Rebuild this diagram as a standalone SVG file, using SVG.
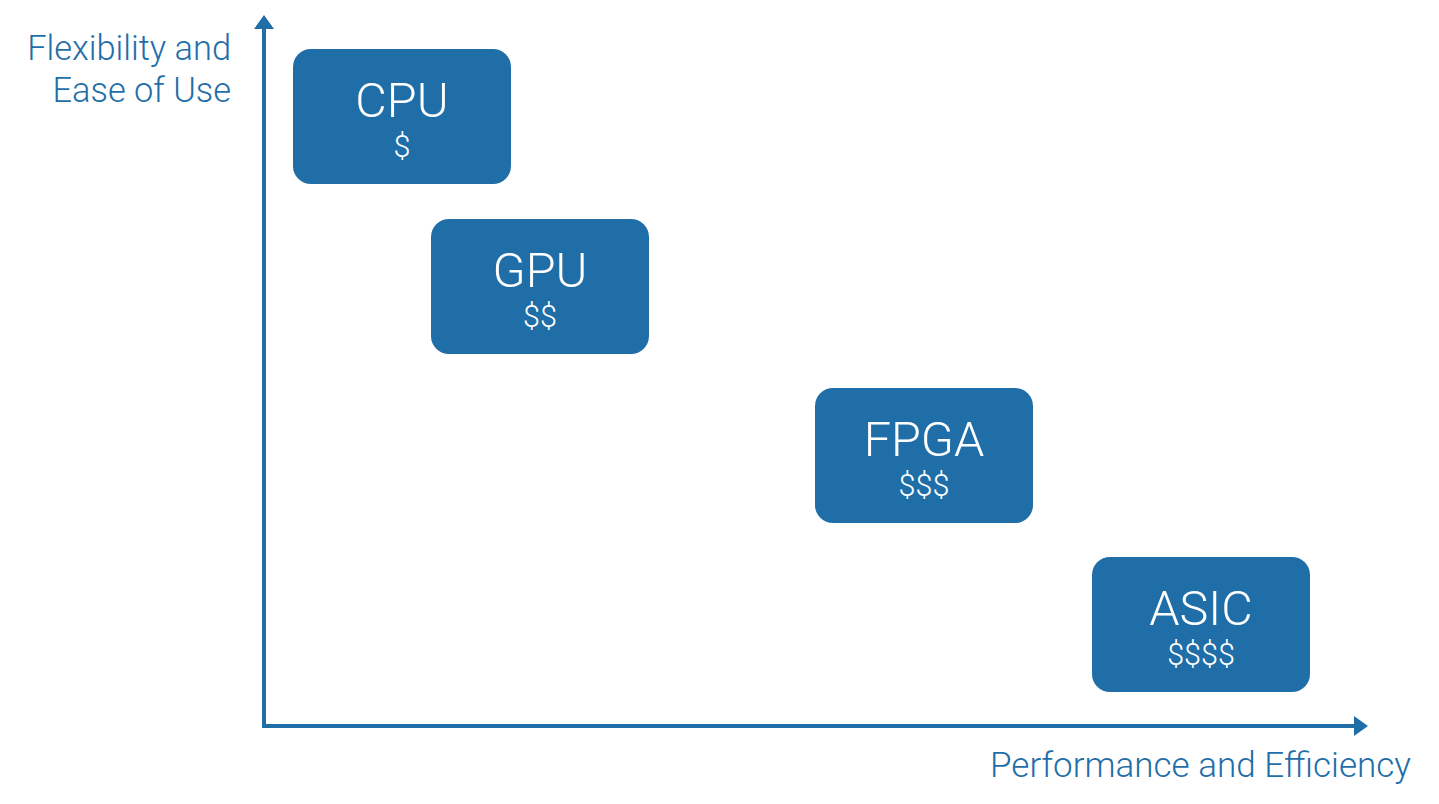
<svg xmlns="http://www.w3.org/2000/svg" width="1439" height="804" viewBox="0 0 1439 804">
<style>
.box{fill:#1f6ea8}
.t{font-family:Roboto,"Liberation Sans",sans-serif;font-weight:300;fill:#ffffff;text-anchor:middle}
.big{font-size:48.5px}
.small{font-size:30.5px}
.lab{font-family:Roboto,"Liberation Sans",sans-serif;font-weight:300;fill:#1f6ea8}
.axis{stroke:#1f6ea8;stroke-width:4;fill:none}
</style>
<rect width="1439" height="804" fill="#ffffff"/>
<g id="connectors">
<path class="axis" d="M264,728 V27"/>
<polygon points="264,15 254,29 274,29" fill="#1f6ea8"/>
<path class="axis" d="M262,726 H1356"/>
<polygon points="1368,726 1354,716 1354,736" fill="#1f6ea8"/>
</g>
<g id="ylabel">
<text class="lab" x="231" y="60" text-anchor="end" font-size="34.4">Flexibility and</text>
<text class="lab" x="231" y="102" text-anchor="end" font-size="34.4">Ease of Use</text>
</g>
<g id="xlabel">
<text class="lab" x="1411" y="777" text-anchor="end" font-size="35">Performance and Efficiency</text>
</g>
<g id="cpu">
<rect class="box" x="293" y="49" width="218" height="135" rx="18"/>
<text class="t big" x="402" y="117">CPU</text>
<text class="t small" x="402" y="157">$</text>
</g>
<g id="gpu">
<rect class="box" x="431" y="219" width="218" height="135" rx="18"/>
<text class="t big" x="540" y="287">GPU</text>
<text class="t small" x="540" y="327">$$</text>
</g>
<g id="fpga">
<rect class="box" x="815" y="388" width="218" height="135" rx="18"/>
<text class="t big" x="924" y="456">FPGA</text>
<text class="t small" x="924" y="496">$$$</text>
</g>
<g id="asic">
<rect class="box" x="1092" y="557" width="218" height="135" rx="18"/>
<text class="t big" x="1201" y="625">ASIC</text>
<text class="t small" x="1201" y="665">$$$$</text>
</g>
</svg>
